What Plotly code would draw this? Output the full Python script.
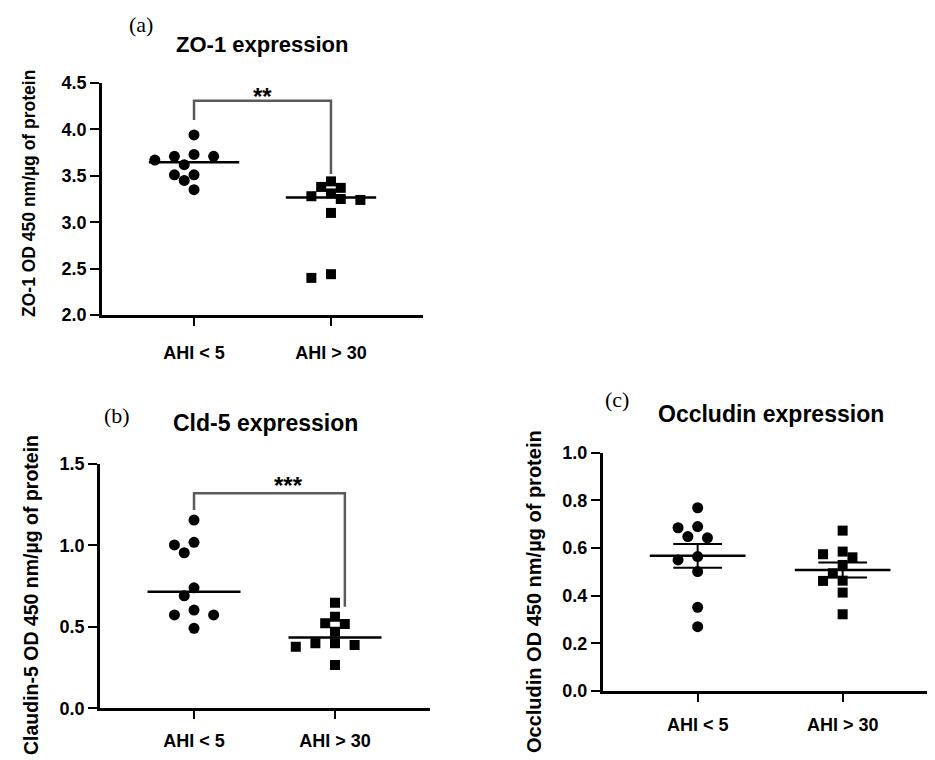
import plotly.graph_objects as go

# the page body has an 8px margin: the figure is sized to end at the window edge
OFF = 8
W, H = 935 - OFF, 760 - OFF

# ---------------- data ----------------
categories = ["AHI < 5", "AHI > 30"]

zo1_ahi_lt5 = [3.94, 3.73, 3.71, 3.71, 3.67, 3.62, 3.51, 3.51, 3.45, 3.35]
zo1_ahi_gt30 = [3.44, 3.38, 3.37, 3.31, 3.28, 3.25, 3.24, 3.10, 2.44, 2.40]

cld5_ahi_lt5 = [1.156, 1.019, 1.003, 0.955, 0.740, 0.691, 0.603, 0.573, 0.573, 0.491]
cld5_ahi_gt30 = [0.648, 0.562, 0.522, 0.517, 0.470, 0.399, 0.399, 0.389, 0.378, 0.266]

occ_ahi_lt5 = [0.769, 0.690, 0.685, 0.648, 0.643, 0.564, 0.550, 0.501, 0.351, 0.270]
occ_ahi_gt30 = [0.673, 0.585, 0.574, 0.561, 0.529, 0.494, 0.463, 0.462, 0.413, 0.322]

# ---------------- helpers ----------------
def px(x):
    return (x - OFF) / W


def py(y):
    return 1 - (y - OFF) / H


def median(v):
    s = sorted(v)
    n = len(s)
    return (s[n // 2 - 1] + s[n // 2]) / 2 if n % 2 == 0 else s[n // 2]


def mean_sem(v):
    n = len(v)
    m = sum(v) / n
    sd = (sum((a - m) ** 2 for a in v) / (n - 1)) ** 0.5
    return m, sd / n ** 0.5


def swarm(values, ppu_y, ppu_x, step_px=9.8, diam_px=11.0):
    """simple beeswarm: offsets (x data units) so markers do not overlap"""
    order = sorted(range(len(values)), key=lambda i: -values[i])
    placed = []
    lanes = [0] * len(values)
    for i in order:
        y = values[i] * ppu_y
        for k in [0, -1, 1, -2, 2, -3, 3, -4, 4, -5, 5]:
            if all(((k - l) * step_px) ** 2 + (y - yy) ** 2 >= diam_px ** 2 for l, yy in placed):
                break
        lanes[i] = k
        placed.append((k, y))
    return [k * step_px / ppu_x for k in lanes]


# panel geometry (pixels in the 935x760 window)
panels = {
    "a": dict(x0=102, x1=423, y0=83, y1=315, xr=[-0.672, 1.672], yr=[2.0, 4.5], dt=0.5, so=12),
    "b": dict(x0=100, x1=430, y0=464, y1=708.3, xr=[-0.667, 1.674], yr=[0.0, 1.5], dt=0.5, so=6),
    "c": dict(x0=602.7, x1=935, y0=452.7, y1=691, xr=[-0.655, 1.637], yr=[0.0, 1.0], dt=0.2, so=8),
}

FONT = "Liberation Sans"
fig = go.Figure()
layout = dict(
    template="none",
    width=W, height=H, margin=dict(l=0, r=0, t=0, b=0, pad=0, autoexpand=False),
    paper_bgcolor="white", plot_bgcolor="white", showlegend=False,
)
shapes, annotations = [], []

datasets = {
    "a": (zo1_ahi_lt5, zo1_ahi_gt30, "median"),
    "b": (cld5_ahi_lt5, cld5_ahi_gt30, "median"),
    "c": (occ_ahi_lt5, occ_ahi_gt30, "meansem"),
}

for idx, key in enumerate(["a", "b", "c"]):
    p = panels[key]
    sfx = "" if idx == 0 else str(idx + 1)
    xa, ya = "x" + sfx, "y" + sfx
    ppu_x = (p["x1"] - p["x0"]) / (p["xr"][1] - p["xr"][0])
    ppu_y = (p["y1"] - p["y0"]) / (p["yr"][1] - p["yr"][0])
    g1, g2, stat = datasets[key]
    for ci, (vals, sym, size) in enumerate([(g1, "circle", 11), (g2, "square", 10)]):
        offs = swarm(vals, ppu_y, ppu_x)
        fig.add_trace(go.Scatter(
            x=[ci + o for o in offs], y=vals, mode="markers",
            marker=dict(symbol=sym, size=size, color="black", line=dict(width=0)),
            xaxis=xa, yaxis=ya, hoverinfo="skip"))
        if stat == "median":
            m = median(vals)
            shapes.append(dict(type="line", xref=xa, yref=ya, x0=ci - 0.33, x1=ci + 0.33,
                               y0=m, y1=m, line=dict(color="black", width=2.5)))
        else:
            m, se = mean_sem(vals)
            shapes.append(dict(type="line", xref=xa, yref=ya, x0=ci - 0.33, x1=ci + 0.33,
                               y0=m, y1=m, line=dict(color="black", width=2.5)))
            for yy in (m - se, m + se):
                shapes.append(dict(type="line", xref=xa, yref=ya, x0=ci - 0.168, x1=ci + 0.168,
                                   y0=yy, y1=yy, line=dict(color="black", width=2)))
            shapes.append(dict(type="line", xref=xa, yref=ya, x0=ci, x1=ci,
                               y0=m - se, y1=m + se, line=dict(color="black", width=2)))

    layout["xaxis" + sfx] = dict(
        domain=[px(p["x0"]), min(1.0, px(p["x1"]))], range=p["xr"], anchor=ya, automargin=False,
        tickvals=[0, 1], ticktext=categories, ticks="outside", ticklen=8, tickwidth=2,
        tickcolor="black", showline=True, linewidth=2.5, linecolor="black",
        showgrid=False, zeroline=False, ticklabelstandoff=p["so"],
        tickfont=dict(family=FONT, size=18, color="black", weight="bold"))
    layout["yaxis" + sfx] = dict(
        domain=[py(p["y1"]), py(p["y0"])], range=p["yr"], anchor=xa, automargin=False,
        dtick=p["dt"], tick0=0, tickformat=".1f", ticks="outside", ticklen=9, tickwidth=2,
        tickcolor="black", showline=True, linewidth=2.5, linecolor="black",
        showgrid=False, zeroline=False,
        tickfont=dict(family=FONT, size=18, color="black", weight="bold"))

# significance brackets
GRAY = "#5a5a5a"
def bracket(xa, ya, xl, xr_, yl, yt, yr_):
    shapes.append(dict(type="path", xref=xa, yref=ya,
                       path=f"M {xl},{yl} L {xl},{yt} L {xr_},{yt} L {xr_},{yr_}",
                       line=dict(color=GRAY, width=2.5)))

bracket("x", "y", 0, 1, 4.10, 4.31, 3.52)
bracket("x2", "y2", 0, 1.07, 1.217, 1.32, 0.624)

def ann(text, x, y, size, family=FONT, bold=True, angle=0, xref="paper", yref="paper"):
    annotations.append(dict(
        text=text, x=x, y=y, xref=xref, yref=yref, showarrow=False,
        xanchor="center", yanchor="middle", textangle=angle,
        font=dict(family=family, size=size, color="black", weight="bold" if bold else "normal")))

ann("**", 0.5, 4.35, 24, xref="x", yref="y")
ann("***", 0.667, 1.37, 24, xref="x2", yref="y2")

# titles and panel letters
ann("ZO-1 expression", px(262), py(45), 22)
ann("Cld-5 expression", px(265), py(423), 23)
ann("Occludin expression", px(771), py(414), 23)
ann("(a)", px(141), py(24), 22, family="Liberation Serif", bold=False)
ann("(b)", px(117), py(416), 22, family="Liberation Serif", bold=False)
ann("(c)", px(617), py(399), 22, family="Liberation Serif", bold=False)

# y-axis titles
ann("ZO-1 OD 450 nm/µg of protein", px(29), py(194), 17.5, angle=-90)
ann("Claudin-5 OD 450 nm/µg of protein", px(31), py(595), 19.5, angle=-90)
ann("Occludin OD 450 nm/µg of protein", px(534), py(592), 20, angle=-90)

layout["shapes"] = shapes
layout["annotations"] = annotations
fig.update_layout(**layout)
fig.write_html("out.html")
